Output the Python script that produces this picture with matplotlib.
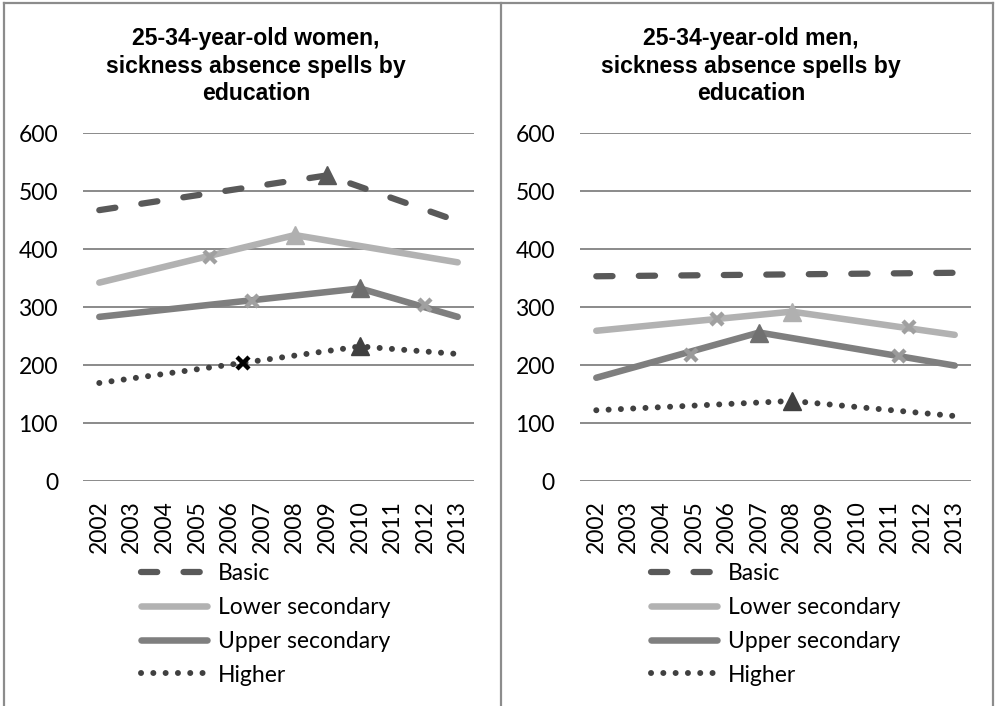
import matplotlib
matplotlib.use("Agg")
import matplotlib.pyplot as plt
from matplotlib.lines import Line2D

# ---------------- data ----------------
years = list(range(2002, 2014))
year_labels = [str(y) for y in years]
series_names = ["Basic", "Lower secondary", "Upper secondary", "Higher"]

# women: line vertices (year, value)
w_basic_x = [2002, 2009, 2013]
w_basic_y = [467, 527, 448]
w_lower_x = [2002, 2008, 2013]
w_lower_y = [342, 424, 377]
w_upper_x = [2002, 2010, 2013]
w_upper_y = [283, 332, 283]
w_higher_x = [2002, 2010, 2013]
w_higher_y = [169, 232, 219]

# women markers
w_basic_tri = ([2009], [527])
w_lower_tri = ([2008], [424])
w_lower_x_mk = ([2005.4], [386])
w_upper_tri = ([2010], [332])
w_upper_x_mk = ([2006.7, 2012], [311, 303])
w_higher_tri = ([2010], [232])
w_higher_x_mk = ([2006.4], [204])

# men: line vertices
m_basic_x = [2002, 2013]
m_basic_y = [353, 359]
m_lower_x = [2002, 2008, 2013]
m_lower_y = [259, 292, 252]
m_upper_x = [2002, 2007, 2013]
m_upper_y = [178, 256, 199]
m_higher_x = [2002, 2008, 2013]
m_higher_y = [122, 138, 112]

# men markers
m_lower_tri = ([2008], [292])
m_lower_x_mk = ([2005.7, 2011.6], [279, 266])
m_upper_tri = ([2007], [256])
m_upper_x_mk = ([2004.9, 2011.3], [217, 216])
m_higher_tri = ([2008], [138])

titles = ["25-34-year-old women,\nsickness absence spells by\neducation",
          "25-34-year-old men,\nsickness absence spells by\neducation"]

# ---------------- style ----------------
C_BASIC = "#595959"
C_LOWER = "#b2b2b2"
C_UPPER = "#7f7f7f"
C_HIGHER = "#404040"
GRID = "#8a8a8a"
FONT = "Lato"
FS = 16.5

W, H = 999, 706
fig = plt.figure(figsize=(W / 100, H / 100), dpi=100)


def fx(px):
    return px / W


def fy(py):
    return 1 - py / H


def draw_panel(ax, lines, tris, xmks, title, title_x, leg_x):
    ax.set_xlim(2001.5, 2013.5)
    ax.set_ylim(0, 600)
    ax.set_yticks(range(0, 601, 100))
    ax.set_xticks(years)
    ax.set_xticklabels(year_labels, rotation=90, fontsize=FS, family=FONT)
    for lab in ax.get_yticklabels():
        lab.set_fontsize(FS)
        lab.set_family(FONT)
    ax.tick_params(axis="both", length=0)
    ax.tick_params(axis="y", pad=18)
    ax.tick_params(axis="x", pad=14)
    for s in ax.spines.values():
        s.set_visible(False)
    ax.grid(axis="y", color=GRID, lw=1.4)
    ax.set_axisbelow(True)

    handles = []
    for (xs, ys, style) in lines:
        h, = ax.plot(xs, ys, **style)
        handles.append(h)
    for (xs, ys, col) in xmks:
        ax.plot(xs, ys, ls="none", marker="x", ms=9, mew=3.2, color=col, zorder=5)
    for (xs, ys, col) in tris:
        ax.plot(xs, ys, ls="none", marker="^", ms=13, color=col, zorder=5)

    fig.text(title_x, fy(66), title, ha="center", va="center", fontsize=16.6,
             fontweight="bold", family="Liberation Sans", linespacing=1.24)

    fig.legend(handles, series_names, loc="upper left",
               bbox_to_anchor=(fx(leg_x), fy(563)), frameon=False,
               prop={"family": FONT, "size": FS}, handlelength=2.9,
               handletextpad=0.45, labelspacing=0.56, borderpad=0,
               borderaxespad=0)


def styles():
    return [
        dict(color=C_BASIC, lw=4.5, ls=(0, (2.6, 4.2)), dash_capstyle="round",
             solid_capstyle="round"),
        dict(color=C_LOWER, lw=4.7, solid_capstyle="round"),
        dict(color=C_UPPER, lw=4.7, solid_capstyle="round"),
        dict(color=C_HIGHER, lw=4.3, ls=(0, (0.01, 2.05)), dash_capstyle="round"),
    ]


axL = fig.add_axes([fx(83), fy(481), fx(474 - 83), (481 - 133) / H])
axR = fig.add_axes([fx(580), fy(481), fx(971 - 580), (481 - 133) / H])

sL = styles()
draw_panel(
    axL,
    [(w_basic_x, w_basic_y, sL[0]), (w_lower_x, w_lower_y, sL[1]),
     (w_upper_x, w_upper_y, sL[2]), (w_higher_x, w_higher_y, sL[3])],
    [(w_basic_tri[0], w_basic_tri[1], C_BASIC), (w_lower_tri[0], w_lower_tri[1], "#b0b0b0"),
     (w_upper_tri[0], w_upper_tri[1], "#6e6e6e"), (w_higher_tri[0], w_higher_tri[1], "#404040")],
    [(w_lower_x_mk[0], w_lower_x_mk[1], "#a0a0a0"), (w_upper_x_mk[0], w_upper_x_mk[1], "#a0a0a0"),
     (w_higher_x_mk[0], w_higher_x_mk[1], "#000000")],
    titles[0], fx(256), 141,
)
sR = styles()
draw_panel(
    axR,
    [(m_basic_x, m_basic_y, sR[0]), (m_lower_x, m_lower_y, sR[1]),
     (m_upper_x, m_upper_y, sR[2]), (m_higher_x, m_higher_y, sR[3])],
    [(m_lower_tri[0], m_lower_tri[1], "#b0b0b0"), (m_upper_tri[0], m_upper_tri[1], "#707070"),
     (m_higher_tri[0], m_higher_tri[1], "#404040")],
    [(m_lower_x_mk[0], m_lower_x_mk[1], "#a0a0a0"), (m_upper_x_mk[0], m_upper_x_mk[1], "#9a9a9a")],
    titles[1], fx(751), 651,
)

# panel frames
BC = "#8c8c8c"
for (x0, x1, y0, y1) in [(4, 4, 3, 706), (501, 501, 3, 706), (993, 993, 3, 706), (4, 993, 3, 3)]:
    fig.add_artist(Line2D([fx(x0), fx(x1)], [fy(y0), fy(y1)], color=BC, lw=1.6,
                          transform=fig.transFigure))

fig.savefig("out.png", dpi=100, facecolor="white")
